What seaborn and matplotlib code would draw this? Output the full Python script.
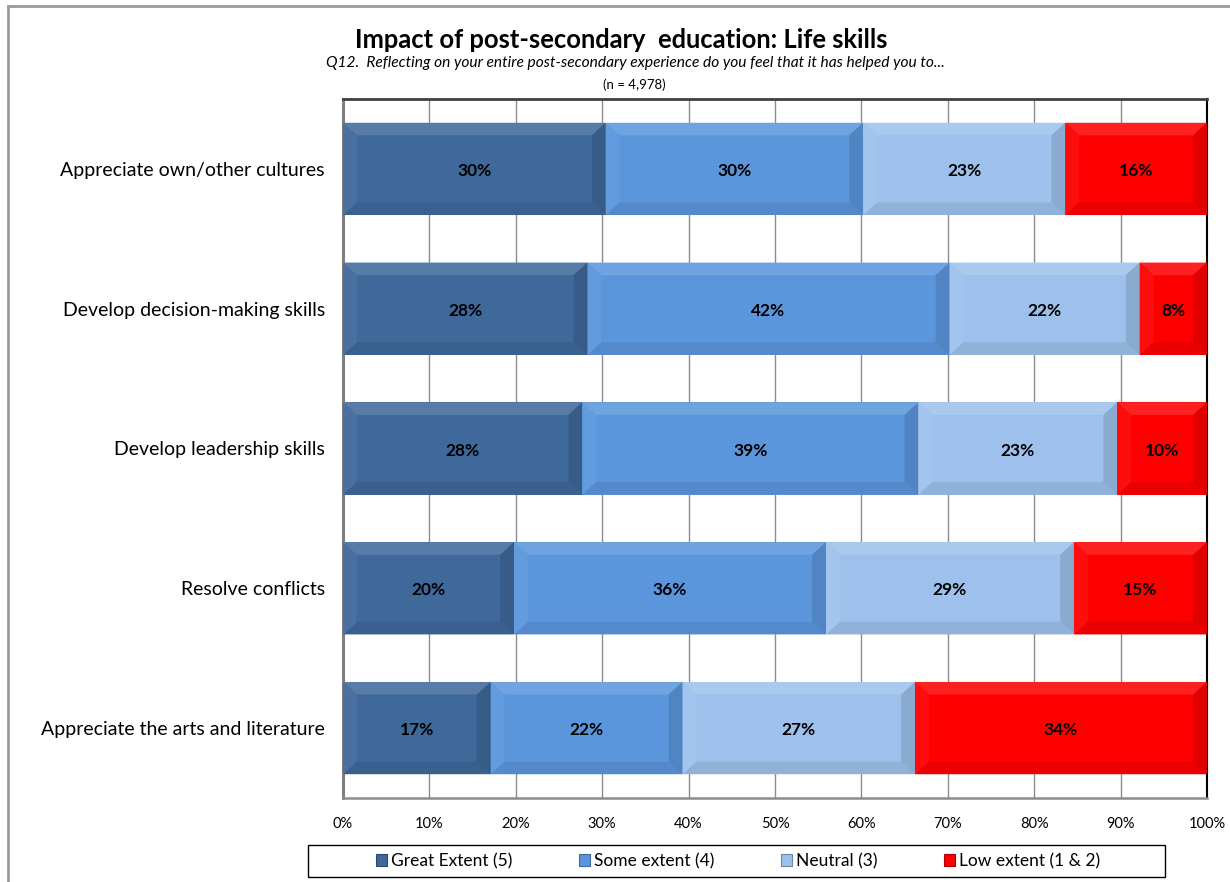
import matplotlib
matplotlib.use("Agg")
import matplotlib.pyplot as plt
from matplotlib.patches import Polygon, Rectangle
import numpy as np
import pandas as pd
import seaborn as sns

# Survey data: share of respondents per response level (%)
items = [
    "Appreciate own/other cultures",
    "Develop decision-making skills",
    "Develop leadership skills",
    "Resolve conflicts",
    "Appreciate the arts and literature",
]
great_extent = [30.4, 28.3, 27.7, 19.8, 17.1]
some_extent = [29.8, 41.9, 38.9, 36.1, 22.2]
neutral = [23.4, 22.0, 23.0, 28.7, 26.9]
low_extent = [16.4, 7.8, 10.4, 15.4, 33.8]

levels = ["Great Extent (5)", "Some extent (4)", "Neutral (3)", "Low extent (1 & 2)"]
colors = ["#3F689B", "#5B96DD", "#9DC1EC", "#FE0000"]

title = "Impact of post-secondary  education: Life skills"
subtitle = "Q12.  Reflecting on your entire post-secondary experience do you feel that it has helped you to..."
sample = "(n = 4,978)"

sns.set_theme(style="white")
plt.rcParams["font.family"] = ["Lato", "DejaVu Sans"]
plt.rcParams["text.color"] = "black"
plt.rcParams["xtick.color"] = "black"
plt.rcParams["ytick.color"] = "black"

series = np.array([great_extent, some_extent, neutral, low_extent])
cum = np.cumsum(series, axis=0)
starts = cum - series

fig = plt.figure(figsize=(12.3, 8.82), dpi=100)
ax = fig.add_axes([343 / 1230, 1 - 798 / 882, 864 / 1230, 699 / 882])

# Stacked bars: draw cumulative totals longest first so shorter ones overlay
bar_h = 0.66
for k in range(len(levels) - 1, -1, -1):
    df = pd.DataFrame({"item": items, "value": cum[k]})
    sns.barplot(data=df, x="value", y="item", orient="h", color=colors[k],
                saturation=1, width=bar_h, ax=ax, linewidth=0, zorder=2)


def shade(hex_color, f):
    rgb = np.array(matplotlib.colors.to_rgb(hex_color))
    if f >= 0:
        rgb = rgb + (1 - rgb) * f
    else:
        rgb = rgb * (1 + f)
    return tuple(np.clip(rgb, 0, 1))


# Bevelled edges on every segment
bx = 1.6   # horizontal bevel, in % units
by = 0.09  # vertical bevel, in category units
for k in range(len(levels)):
    for i in range(len(items)):
        x0 = starts[k, i]
        x1 = cum[k, i]
        y0 = i - bar_h / 2   # top edge (y axis is inverted)
        y1 = i + bar_h / 2
        c = colors[k]
        faces = [
            ([(x0, y0), (x1, y0), (x1 - bx, y0 + by), (x0 + bx, y0 + by)], shade(c, 0.13)),
            ([(x0, y1), (x1, y1), (x1 - bx, y1 - by), (x0 + bx, y1 - by)], shade(c, -0.08)),
            ([(x0, y0), (x0 + bx, y0 + by), (x0 + bx, y1 - by), (x0, y1)], shade(c, 0.05)),
            ([(x1, y0), (x1 - bx, y0 + by), (x1 - bx, y1 - by), (x1, y1)], shade(c, -0.12)),
        ]
        for pts, fc in faces:
            ax.add_patch(Polygon(pts, closed=True, facecolor=fc, edgecolor="none", zorder=3))
        ax.text((x0 + x1) / 2, i + 0.015, f"{series[k, i]:.0f}%", ha="center", va="center",
                fontsize=12.5, fontweight="bold", color="black", zorder=4)

ax.set_xlim(0, 100)
ax.set_ylim(len(items) - 0.5, -0.5)
ax.set_xticks(np.arange(0, 101, 10))
ax.set_xticklabels([f"{v}%" for v in range(0, 101, 10)], fontsize=10.5)
ax.set_yticks(range(len(items)))
ax.set_yticklabels(items, fontsize=14)
ax.set_yticks(np.arange(-0.5, len(items), 1.0), minor=True)
ax.set_xlabel("")
ax.set_ylabel("")
ax.tick_params(axis="y", which="major", length=0, pad=13)
ax.tick_params(axis="y", which="minor", length=6, width=1.5, color="#808080", direction="out")
ax.tick_params(axis="x", which="major", length=5, width=1, color="#808080",
               direction="out", pad=9)
ax.grid(axis="x", color="#8C8C8C", linewidth=1, zorder=0)
ax.set_axisbelow(True)

for side, col, lw in [("left", "#7F7F7F", 2.2), ("bottom", "#8C8C8C", 1.8),
                      ("top", "#404040", 2.0), ("right", "black", 1.5)]:
    ax.spines[side].set_visible(True)
    ax.spines[side].set_color(col)
    ax.spines[side].set_linewidth(lw)

fig.text(621 / 1230, 1 - 40 / 882, title, ha="center", va="center",
         fontsize=18.4, fontweight="bold")
fig.text(635 / 1230, 1 - 63 / 882, subtitle, ha="center", va="center",
         fontsize=11.2, style="italic")
fig.text(634 / 1230, 1 - 85 / 882, sample, ha="center", va="center", fontsize=9.5)

# Legend box spanning below the plot, entries centred inside
fig.add_artist(Rectangle((308 / 1230, 1 - 877 / 882), 857 / 1230, 32 / 882,
                         transform=fig.transFigure, fill=False, edgecolor="black",
                         linewidth=1.0))
handles = [Rectangle((0, 0), 1, 1, facecolor=c, edgecolor=shade(c, -0.3), linewidth=0.8)
           for c in colors]
fig.legend(handles, levels, loc="center", bbox_to_anchor=(738 / 1230, 1 - 861 / 882),
           ncol=4, frameon=False, fontsize=12.5, handlelength=0.65,
           handleheight=0.65, handletextpad=0.2, columnspacing=3.85, borderpad=0.3)

# Outer chart frame (left and top edges)
fig.add_artist(Rectangle((8 / 1230, -0.05), 1.1, 1 - 6 / 882 + 0.05, transform=fig.transFigure,
                         fill=False, edgecolor="#9A9A9A", linewidth=2))

fig.savefig("out.png", dpi=100)
